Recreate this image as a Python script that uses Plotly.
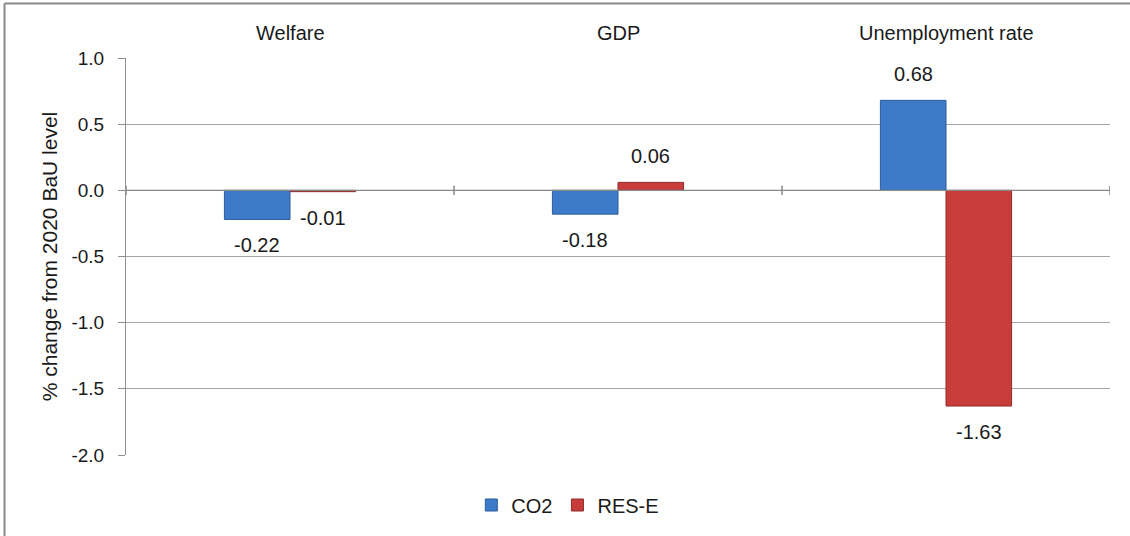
import plotly.graph_objects as go

categories = ["Welfare", "GDP", "Unemployment rate"]
co2 = [-0.22, -0.18, 0.68]
rese = [-0.01, 0.06, -1.63]
series_names = ["CO2", "RES-E"]
yticks = [1.0, 0.5, 0.0, -0.5, -1.0, -1.5, -2.0]

FONT = "Liberation Sans, Arial, sans-serif"
L, R, T, B = 126, 1110, 58, 455
W, H = 1130, 536

fig = go.Figure()
idx = list(range(len(categories)))
fig.add_trace(go.Bar(x=idx, y=co2, name=series_names[0],
                     marker=dict(color="#3D7AC8", line=dict(color="#2B5C9E", width=1))))
fig.add_trace(go.Bar(x=idx, y=rese, name=series_names[1],
                     marker=dict(color="#C83D3C", line=dict(color="#902B2A", width=1))))

ann = []
for i in idx:
    for v, off in ((co2[i], -0.1), (rese[i], 0.1)):
        ann.append(dict(x=i + off, y=v, xref="x", yref="y", text=f"{v:.2f}",
                        showarrow=False, yshift=26 if v > 0 else -26,
                        font=dict(family=FONT, size=20, color="#1a1a1a")))
for i, c in enumerate(categories):
    ann.append(dict(x=i, y=1.0, xref="x", yref="paper", yanchor="bottom", yshift=12,
                    text=c, showarrow=False, font=dict(family=FONT, size=20, color="#1a1a1a")))

shapes = []
for b in [-0.5, 0.5, 1.5, 2.5]:
    shapes.append(dict(type="line", xref="x", yref="y", x0=b, x1=b, y0=-0.035, y1=0.035,
                       line=dict(color="#888", width=1.5)))
shapes.append(dict(type="line", xref="x", yref="y", x0=-0.5, x1=2.5, y0=0, y1=0,
                   line=dict(color="#888", width=1.2)))
px = lambda x: (x - L) / (R - L)
py = lambda y: (B - y) / (B - T)
# outer frame: only top and left edges are visible in the image
shapes.append(dict(type="line", xref="paper", yref="paper", x0=px(4.5), x1=px(1130),
                   y0=py(3.5), y1=py(3.5), line=dict(color="#8a8a8a", width=2)))
shapes.append(dict(type="line", xref="paper", yref="paper", x0=px(4.5), x1=px(4.5),
                   y0=py(3.5), y1=py(536), line=dict(color="#8a8a8a", width=2)))

fig.update_layout(
    width=W, height=H,
    margin=dict(l=L, r=W - R, t=T, b=H - B),
    paper_bgcolor="white", plot_bgcolor="white",
    barmode="group", bargap=0.6, bargroupgap=0,
    font=dict(family=FONT, size=20, color="#1a1a1a"),
    xaxis=dict(range=[-0.5, 2.5], showticklabels=False, ticks="", showgrid=False,
               zeroline=False, showline=False, fixedrange=True),
    yaxis=dict(range=[-2.0, 1.0], tickvals=yticks, ticktext=[f"{t:.1f}" for t in yticks],
               tickfont=dict(size=19, color="#1a1a1a"), showgrid=True, gridcolor="#a6a6a6",
               gridwidth=1, zeroline=False, showline=True, linecolor="#909090", linewidth=1,
               ticks="outside", ticklen=7, tickcolor="#909090", ticklabelstandoff=10,
               title=dict(text="% change from 2020 BaU level", font=dict(size=21, color="#1a1a1a"),
                          standoff=8)),
    legend=dict(orientation="h", x=0.449, xanchor="center", y=py(505), yanchor="middle",
                font=dict(size=20, color="#1a1a1a"), itemwidth=30, traceorder="normal"),
    annotations=ann, shapes=shapes,
)
fig.write_html("out.html")
